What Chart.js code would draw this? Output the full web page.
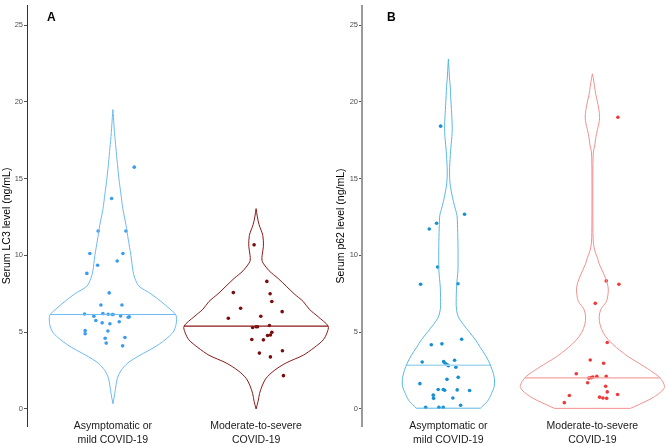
<!DOCTYPE html>
<html>
<head>
<meta charset="utf-8">
<script src="https://cdn.jsdelivr.net/npm/chart.js@4.4.1/dist/chart.umd.min.js"></script>
<style>
  body { margin: 0; background: #fff; }
  #wrap { position: relative; width: 666px; height: 444px; overflow: hidden; }
  canvas { position: absolute; top: 0; }
  #lc3 { left: 0; }
  #p62 { left: 333px; }
  .panel-tag { position: absolute; top: 10px; line-height: 13px; font: bold 12px 'Liberation Sans', Arial, sans-serif; color: #000; }
</style>
</head>
<body>
<div id="wrap">
  <canvas id="lc3" width="342" height="444"></canvas>
  <canvas id="p62" width="333" height="444"></canvas>
  <div class="panel-tag" style="left:47px">A</div>
  <div class="panel-tag" style="left:387px">B</div>
</div>
<script>
'use strict';

//data

//categories sit at x = 1 and x = 2
const groupLabels = [['Asymptomatic or', 'mild COVID-19'], ['Moderate-to-severe', 'COVID-19']];
const yTicks = [0, 5, 10, 15, 20, 25];

//panel A - serum LC3
const lc3Medians = [6.15, 5.4];
//violin outlines: level (ng/mL) and half width (category units)
const lc3MildLevels = [0.34, 1, 1.5, 2, 2.5, 3, 3.5, 4, 4.5, 5, 5.5, 6.1, 6.5, 7, 7.5, 8, 8.5, 9, 10, 11, 12, 13, 14, 15, 16, 17, 18, 19, 19.5];
const lc3MildWidths = [0, 0.013, 0.021, 0.031, 0.056, 0.105, 0.189, 0.287, 0.364, 0.420, 0.441, 0.441, 0.399, 0.336, 0.266, 0.182, 0.154, 0.140, 0.126, 0.108, 0.091, 0.070, 0.056, 0.042, 0.031, 0.021, 0.011, 0.004, 0];
const lc3SevereLevels = [0, 0.5, 1, 1.5, 2, 2.5, 3, 3.5, 4, 4.5, 5, 5.4, 6, 6.5, 7, 7.5, 8, 8.5, 9, 9.5, 9.7, 10, 10.6, 11.3, 12, 12.5, 13.05];
const lc3SevereWidths = [0, 0.014, 0.024, 0.042, 0.070, 0.126, 0.210, 0.329, 0.406, 0.469, 0.497, 0.503, 0.434, 0.371, 0.329, 0.266, 0.210, 0.154, 0.091, 0.049, 0.041, 0.042, 0.051, 0.047, 0.021, 0.009, 0];
//points: value and sideways jitter
const lc3MildValues = [15.75, 13.71, 11.59, 11.59, 10.13, 10.13, 9.36, 9.64, 8.83, 7.56, 6.77, 6.77, 6.19, 6.21, 6.17, 6.15, 6.15, 6.04, 6.06, 6.0, 5.97, 5.76, 5.61, 5.68, 5.55, 5.08, 5.10, 4.90, 4.61, 4.65, 4.29, 4.11];
const lc3MildJitter = [0.149, -0.009, -0.103, 0.091, -0.161, 0.070, -0.107, 0.030, -0.182, -0.026, -0.084, 0.063, -0.198, -0.070, -0.033, -0.005, 0.002, -0.133, 0.054, 0.114, 0.107, -0.119, -0.075, 0.044, -0.021, -0.035, -0.194, -0.194, -0.054, 0.084, -0.047, 0.068];
const lc3SevereValues = [10.69, 8.31, 7.58, 7.50, 7.0, 6.56, 6.04, 6.34, 5.91, 5.44, 5.35, 5.35, 5.31, 4.99, 4.82, 4.78, 4.52, 4.50, 3.64, 3.79, 3.39, 2.17];
const lc3SevereJitter = [-0.014, 0.075, -0.159, 0.098, 0.110, -0.108, 0.033, 0.182, -0.194, 0.093, 0.0, 0.01, -0.024, 0.110, 0.100, 0.080, -0.030, 0.051, 0.023, 0.184, 0.100, 0.191];

//panel B - serum p62
const p62Medians = [2.85, 2.02];
const p62MildLevels = [0.05, 0.5, 1, 1.5, 2, 2.5, 3, 3.5, 4, 4.5, 5, 5.5, 6, 6.5, 7, 8, 9, 10, 11, 12, 12.6, 13, 13.5, 14, 14.5, 15, 15.5, 16, 16.5, 17, 17.5, 18, 18.5, 19, 19.5, 20, 20.5, 21, 21.5, 22, 22.8];
const p62MildWidths = [0.222, 0.271, 0.299, 0.319, 0.319, 0.306, 0.285, 0.257, 0.222, 0.188, 0.146, 0.104, 0.069, 0.056, 0.054, 0.057, 0.066, 0.067, 0.066, 0.063, 0.060, 0.049, 0.035, 0.024, 0.014, 0.009, 0.008, 0.010, 0.013, 0.017, 0.022, 0.026, 0.026, 0.024, 0.021, 0.018, 0.015, 0.013, 0.008, 0.005, 0];
const p62SevereLevels = [0.04, 0.3, 0.8, 1.4, 2, 2.5, 3, 3.4, 4, 4.5, 5, 5.5, 6, 6.5, 7, 7.6, 8, 8.5, 9, 9.5, 9.8, 10.3, 10.8, 11.5, 13, 15, 16, 16.75, 17.2, 17.7, 18.2, 18.6, 19, 19.5, 20, 20.5, 21, 21.5, 21.83];
const p62SevereWidths = [0.264, 0.326, 0.431, 0.5, 0.472, 0.403, 0.319, 0.25, 0.167, 0.111, 0.073, 0.053, 0.047, 0.059, 0.097, 0.110, 0.108, 0.092, 0.069, 0.045, 0.037, 0.017, 0.007, 0.004, 0.003, 0.003, 0.004, 0.007, 0.017, 0.024, 0.035, 0.045, 0.05, 0.045, 0.035, 0.023, 0.015, 0.007, 0];
const p62MildValues = [18.42, 12.68, 12.1, 11.72, 9.25, 8.12, 8.16, 4.18, 4.24, 4.54, 3.06, 3.08, 2.98, 3.17, 2.88, 2.81, 2.72, 2.06, 1.93, 1.65, 1.27, 1.27, 1.22, 1.24, 1.2, 0.90, 0.69, 0.71, 0.24, 0.11, 0.11, 0.11];
const p62MildJitter = [-0.054, 0.112, -0.082, -0.133, -0.075, -0.193, 0.066, -0.119, -0.045, 0.092, -0.182, -0.033, -0.022, 0.043, -0.008, 0.0, 0.052, 0.068, -0.010, -0.198, -0.071, -0.036, -0.026, 0.061, 0.147, -0.105, -0.103, 0.031, 0.085, -0.158, -0.066, -0.036];
const p62SevereValues = [19.0, 8.34, 8.12, 6.88, 4.33, 3.19, 2.98, 2.29, 2.01, 2.04, 2.08, 2.12, 2.12, 1.71, 1.48, 1.11, 0.94, 0.88, 0.77, 0.71, 0.69, 0.41];
const p62SevereJitter = [0.177, 0.096, 0.184, 0.02, 0.103, -0.015, 0.078, -0.112, -0.024, -0.008, 0.003, 0.031, 0.096, -0.033, 0.092, 0.103, 0.175, -0.160, 0.05, 0.073, 0.099, -0.195];

const FONT = "'Liberation Sans', Arial, sans-serif";

//helpers

//half width of a violin at level y, straight between the read-off levels
function halfWidthAt(levels, widths, y) {
  for(let i = 1; i < levels.length; i++) {
    if(y <= levels[i]) {
      let t = (y - levels[i - 1]) / (levels[i] - levels[i - 1]);
      return widths[i - 1] + t * (widths[i] - widths[i - 1]);
    }
  }
  return 0;
}

function line(data, color, width, tension = 0) {
  return {data: data, showLine: true, tension: tension, borderColor: color, borderWidth: width, pointRadius: 0, fill: false};
}

function violin(center, levels, widths, median, values, jitter, colors) {
  let outline = [];
  for(let i = 0; i < levels.length; i++) {
    outline.push({x: center - widths[i], y: levels[i]});
  }
  for(let i = levels.length - 1; i >= 0; i--) {
    outline.push({x: center + widths[i], y: levels[i]});
  }
  let sets = [line(outline, colors.line, 1, 0.3)];
  //trimmed violins get a flat base
  if(widths[0] > 0) {
    sets.push(line([{x: center - widths[0], y: levels[0]}, {x: center + widths[0], y: levels[0]}], colors.line, 1));
  }
  let mw = halfWidthAt(levels, widths, median);
  sets.push(line([{x: center - mw, y: median}, {x: center + mw, y: median}], colors.median, colors.medianWidth));
  sets.push({
    data: values.map((v, i) => ({x: center + jitter[i], y: v})),
    pointRadius: 1.8,
    pointBackgroundColor: colors.point,
    pointBorderWidth: 0,
    showLine: false
  });
  return sets;
}

function makeChart(id, datasets, yTitle, axisWidth, xMax, axisColor, axisLine, titlePad) {
  return new Chart(document.getElementById(id), {
    type: 'scatter',
    data: {datasets: datasets},
    options: {
      responsive: false,
      animation: false,
      events: [],
      layout: {padding: 0, autoPadding: false},
      plugins: {legend: {display: false}, tooltip: {enabled: false}},
      scales: {
        x: {
          type: 'linear',
          min: 0.4,
          max: xMax,
          afterBuildTicks: s => { s.ticks = [{value: 1}, {value: 2}]; },
          afterFit: s => { s.height = 18; },
          grid: {display: false, drawTicks: false},
          border: {display: false},
          ticks: {
            autoSkip: false,
            maxRotation: 0,
            //mirrored so the labels are not clipped to the short axis box
            mirror: true,
            padding: -7,
            color: '#1a1a1a',
            font: {family: FONT, size: 10.5, lineHeight: 1.33},
            callback: v => groupLabels[Math.round(v) - 1]
          }
        },
        y: {
          min: -1.11,
          max: 26.28,
          afterBuildTicks: s => { s.ticks = yTicks.map(v => ({value: v})); },
          afterFit: s => { s.width = axisWidth; },
          grid: {drawOnChartArea: false, drawTicks: true, tickLength: 3, color: '#555'},
          border: {display: true, color: axisColor, width: axisLine},
          ticks: {padding: 1, color: '#4d4d4d', font: {family: FONT, size: 7.5}},
          title: {
            display: true,
            //trailing spaces nudge the centred title down, like the original
            text: yTitle + '\u00a0'.repeat(7),
            color: '#000',
            padding: {top: titlePad, bottom: 0},
            font: {family: FONT, size: 10.5}
          }
        }
      }
    }
  });
}

//main

const lc3Sets = [].concat(
  violin(1, lc3MildLevels, lc3MildWidths, lc3Medians[0], lc3MildValues, lc3MildJitter,
    {line: '#6cb9f3', median: '#6cb9f3', medianWidth: 1, point: '#3a9cf0'}),
  violin(2, lc3SevereLevels, lc3SevereWidths, lc3Medians[1], lc3SevereValues, lc3SevereJitter,
    {line: '#8b1a1a', median: '#8b1a1a', medianWidth: 1.2, point: '#7a0c0c'})
);

const p62Sets = [].concat(
  violin(1, p62MildLevels, p62MildWidths, p62Medians[0], p62MildValues, p62MildJitter,
    {line: '#5ab7e3', median: '#a6d8f0', medianWidth: 1.5, point: '#1490d2'}),
  violin(2, p62SevereLevels, p62SevereWidths, p62Medians[1], p62SevereValues, p62SevereJitter,
    {line: '#f48f8f', median: '#f4a0a0', medianWidth: 1.2, point: '#f03a3a'})
);

makeChart('lc3', lc3Sets, 'Serum LC3 level (ng/mL)', 27, 2.6, '#333', 1, 1);
makeChart('p62', p62Sets, 'Serum p62 level (ng/mL)', 29, 0.4 + 304 / 144, '#9a9a9a', 2, 2);
</script>
</body>
</html>
